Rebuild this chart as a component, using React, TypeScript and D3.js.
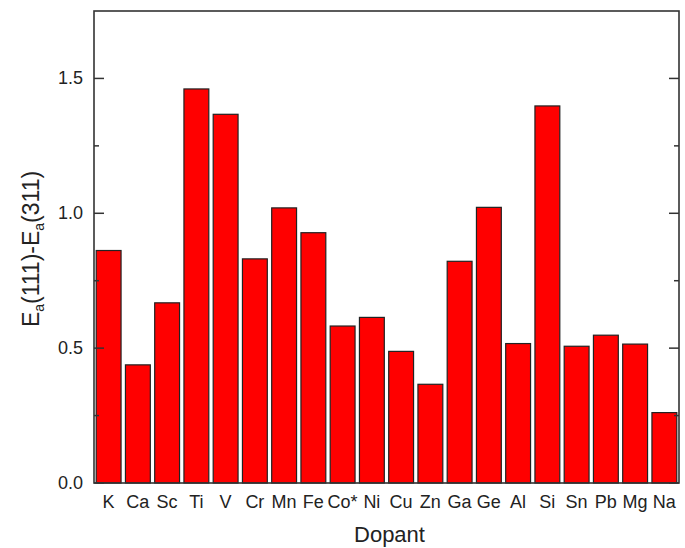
import React from "react";
import * as d3 from "d3";

const dopants = ["K", "Ca", "Sc", "Ti", "V", "Cr", "Mn", "Fe", "Co*", "Ni", "Cu", "Zn", "Ga", "Ge", "Al", "Si", "Sn", "Pb", "Mg", "Na"];
const energyDiff = [0.862, 0.438, 0.668, 1.461, 1.367, 0.831, 1.02, 0.928, 0.582, 0.614, 0.488, 0.366, 0.822, 1.022, 0.517, 1.398, 0.507, 0.548, 0.515, 0.261];
const majorTicks = [0, 0.5, 1.0, 1.5];
const minorTicks = [0.25, 0.75, 1.25];

const W = 685;
const H = 548;
const left = 94;
const right = 679;
const top = 11;
const bottom = 483;

export default function App() {
  const x = d3.scaleBand<string>().domain(dopants).range([left, right]).paddingInner(0.15).paddingOuter(0.075);
  const y = d3.scaleLinear().domain([0, 1.75]).range([bottom, top]);
  const font = "'Liberation Sans', Arial, sans-serif";
  const axisColor = "#333";

  return (
    <svg width={W} height={H} style={{ position: "absolute", left: 0, top: 0, background: "#fff" }} fontFamily={font}>
      <rect x={0} y={0} width={W} height={H} fill="#fff" />
      {dopants.map((d, i) => (
        <rect
          key={d}
          x={x(d)!}
          y={y(energyDiff[i])}
          width={x.bandwidth()}
          height={y(0) - y(energyDiff[i])}
          fill="#ff0000"
          stroke="#222"
          strokeWidth={1.2}
        />
      ))}
      <rect x={left} y={top} width={right - left} height={bottom - top} fill="none" stroke={axisColor} strokeWidth={1.6} />
      {majorTicks.map((t) => (
        <g key={"M" + t}>
          <line x1={left} x2={left + 10} y1={y(t)} y2={y(t)} stroke={axisColor} strokeWidth={1.5} />
          <line x1={right} x2={right - 10} y1={y(t)} y2={y(t)} stroke={axisColor} strokeWidth={1.5} />
          <text x={83} y={y(t)} textAnchor="end" dominantBaseline="central" fontSize={18} fill="#222">
            {d3.format(".1f")(t)}
          </text>
        </g>
      ))}
      {minorTicks.map((t) => (
        <g key={"m" + t}>
          <line x1={left} x2={left + 5} y1={y(t)} y2={y(t)} stroke={axisColor} strokeWidth={1.5} />
          <line x1={right} x2={right - 5} y1={y(t)} y2={y(t)} stroke={axisColor} strokeWidth={1.5} />
        </g>
      ))}
      {dopants.map((d) => (
        <text key={"l" + d} x={x(d)! + x.bandwidth() / 2} y={508} textAnchor="middle" fontSize={18} fill="#222">
          {d}
        </text>
      ))}
      <text x={(left + right) / 2 + 3} y={542} textAnchor="middle" fontSize={22} fill="#222">
        Dopant
      </text>
      <text transform={`translate(39, ${(top + bottom) / 2 + 2}) rotate(-90)`} textAnchor="middle" fontSize={23} fill="#222">
        E<tspan fontSize={14} dy={5}>a</tspan>
        <tspan dy={-5}>(111)-E</tspan>
        <tspan fontSize={14} dy={5}>a</tspan>
        <tspan dy={-5}>(311)</tspan>
      </text>
    </svg>
  );
}
